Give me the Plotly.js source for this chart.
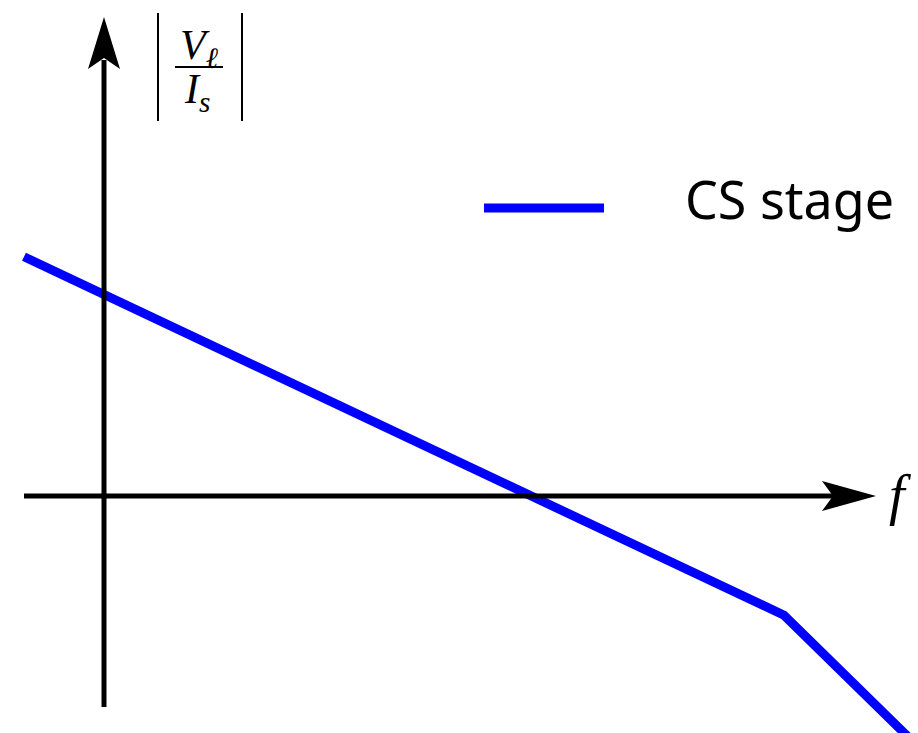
<!DOCTYPE html>
<html>
<head>
<meta charset="utf-8">
<script src="https://cdn.plot.ly/plotly-3.0.1.min.js"></script>
<style>
  html, body { margin: 0; padding: 0; background: #fff; }
  #plot { width: 918px; height: 733px; }
</style>
</head>
<body>
<div id="plot"></div>
<script>
// Asymptotic magnitude response: one pole slope, then a second break
const freq = [-1, 8.5, 10.5];          // log-frequency, arbitrary units
const magnitude = [2.99, -1.49, -3.45]; // log-magnitude, arbitrary units
const seriesName = 'CS stage';
const yLabelTop = '<i>V</i><sub><i>ℓ</i></sub>';
const yLabelBottom = '<i>I</i><sub><i>s</i></sub>';
const xLabel = '<i>f</i>';

const W = 918, H = 733;
const X0 = -1.3, X1 = 10.175;
const Y0 = -2.9625, Y1 = 6.2;
// page-pixel helpers for the hand-drawn axes and labels
const X = px => X0 + (X1 - X0) * px / W;
const Y = py => Y1 - (Y1 - Y0) * py / H;

const black = '#000000';
const blue = '#0000ff';

const shapes = [
  // vertical axis with stealth arrowhead
  {type: 'line', x0: X(104), x1: X(104), y0: Y(707), y1: Y(60),
   line: {color: black, width: 5}},
  {type: 'path', fillcolor: black, line: {width: 0},
   path: `M ${X(104)} ${Y(17)} L ${X(88)} ${Y(69)} L ${X(104)} ${Y(58)} L ${X(120)} ${Y(69)} Z`},
  // horizontal axis with stealth arrowhead
  {type: 'line', x0: X(24), x1: X(840), y0: Y(496), y1: Y(496),
   line: {color: black, width: 5}},
  {type: 'path', fillcolor: black, line: {width: 0},
   path: `M ${X(876)} ${Y(496)} L ${X(822)} ${Y(481)} L ${X(833)} ${Y(496)} L ${X(822)} ${Y(511)} Z`},
  // |  fraction  | for the y label
  {type: 'line', x0: X(158), x1: X(158), y0: Y(13), y1: Y(121), line: {color: black, width: 2}},
  {type: 'line', x0: X(242), x1: X(242), y0: Y(13), y1: Y(121), line: {color: black, width: 2}},
  {type: 'line', x0: X(175), x1: X(223), y0: Y(67), y1: Y(67), line: {color: black, width: 2}},
  // legend sample
  {type: 'line', x0: X(484), x1: X(604), y0: Y(208), y1: Y(208), line: {color: blue, width: 9}}
];

const serif = '"Liberation Serif", "DejaVu Serif", serif';
const annotations = [
  {x: X(199), y: Y(48), text: yLabelTop, showarrow: false, xanchor: 'center', yanchor: 'middle',
   borderpad: 0, font: {family: serif, size: 42, color: black}},
  {x: X(197), y: Y(92), text: yLabelBottom, showarrow: false, xanchor: 'center', yanchor: 'middle',
   borderpad: 0, font: {family: serif, size: 42, color: black}},
  {x: X(900), y: Y(495), text: xLabel, showarrow: false, xanchor: 'center', yanchor: 'middle',
   borderpad: 0, font: {family: serif, size: 56, color: black}},
  {x: X(684), y: Y(198), text: seriesName, showarrow: false, xanchor: 'left', yanchor: 'middle',
   borderpad: 0, font: {family: '"Noto Sans", "Open Sans", sans-serif', size: 52, color: black}}
];

const trace = {
  x: freq, y: magnitude, type: 'scatter', mode: 'lines', name: seriesName,
  line: {color: blue, width: 9}, showlegend: false, hoverinfo: 'skip'
};

const hidden = {showgrid: false, zeroline: false, showticklabels: false,
  ticks: '', showline: false, fixedrange: true};

Plotly.newPlot('plot', [trace], {
  width: W, height: H,
  margin: {l: 0, r: 0, t: 0, b: 0, pad: 0},
  paper_bgcolor: '#fff', plot_bgcolor: '#fff',
  xaxis: Object.assign({}, hidden, {range: [X0, X1]}),
  yaxis: Object.assign({}, hidden, {range: [Y0, Y1]}),
  shapes: shapes,
  annotations: annotations,
  showlegend: false
}, {staticPlot: true, displayModeBar: false});
</script>
</body>
</html>
